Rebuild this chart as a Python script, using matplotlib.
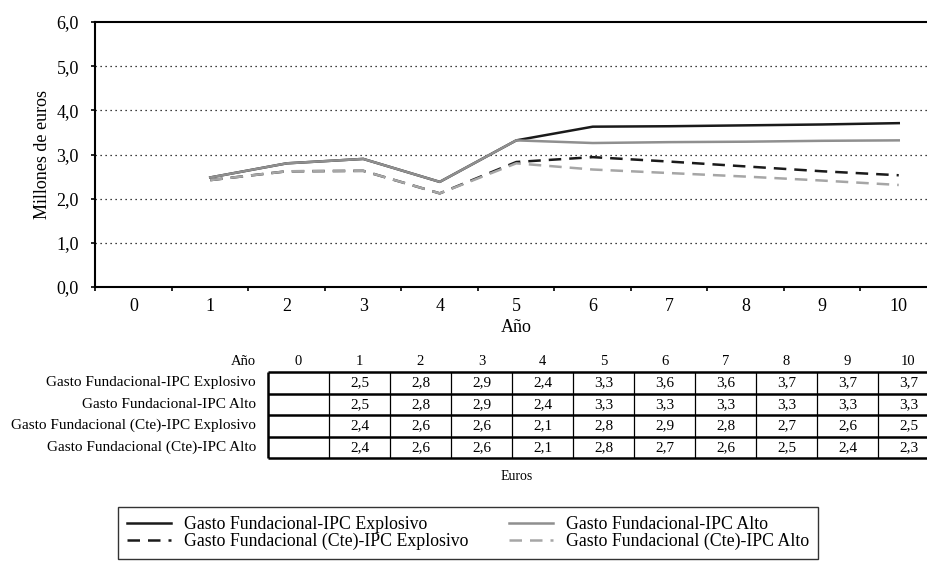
import matplotlib
matplotlib.use("Agg")
import matplotlib.pyplot as plt
import numpy as np
from matplotlib.ticker import FixedLocator, NullFormatter, FuncFormatter

plt.rcParams['font.family'] = ['Liberation Serif', 'DejaVu Serif']

# datos
anios = [0, 1, 2, 3, 4, 5, 6, 7, 8, 9, 10]
anios_serie = [1, 2, 3, 4, 5, 6, 7, 8, 9, 10]
gasto_exp = [2.48, 2.80, 2.90, 2.38, 3.32, 3.63, 3.64, 3.66, 3.68, 3.71]
gasto_alto = [2.48, 2.80, 2.90, 2.38, 3.32, 3.26, 3.28, 3.29, 3.31, 3.32]
gasto_cte_exp = [2.42, 2.62, 2.63, 2.12, 2.83, 2.94, 2.84, 2.73, 2.62, 2.53]
gasto_cte_alto = [2.42, 2.62, 2.63, 2.12, 2.80, 2.66, 2.58, 2.50, 2.41, 2.31]
nombres = ['Gasto Fundacional-IPC Explosivo', 'Gasto Fundacional-IPC Alto',
           'Gasto Fundacional (Cte)-IPC Explosivo', 'Gasto Fundacional (Cte)-IPC Alto']
yticks = [0, 1, 2, 3, 4, 5, 6]

W, H = 928, 563
fig = plt.figure(figsize=(W / 100, H / 100), dpi=100)

# grafico principal (el borde derecho queda fuera de la imagen)
ax = fig.add_axes([95.5 / W, 1 - 287 / H, 841.5 / W, 265 / H])
ax.set_xlim(-0.5, 10.5)
ax.set_ylim(0, 6)

estilos = [
    (gasto_exp, '#1a1a1a', '-'),
    (gasto_alto, '#8f8f8f', '-'),
    (gasto_cte_exp, '#1a1a1a', '--'),
    (gasto_cte_alto, '#a6a6a6', '--'),
]
lineas = []
for (serie, col, ls), nom in zip(estilos, nombres):
    l, = ax.plot(anios_serie, serie, color=col, lw=1.8, ls=ls, label=nom)
    if ls == '--':
        l.set_dashes((5, 3.2))
    lineas.append(l)
# orden de dibujo: grises encima
lineas[0].set_zorder(2)
lineas[2].set_zorder(2)
lineas[1].set_zorder(3)
lineas[3].set_zorder(3)

ax.xaxis.set_major_locator(FixedLocator(np.arange(-0.5, 11, 1)))
ax.xaxis.set_major_formatter(NullFormatter())
ax.xaxis.set_minor_locator(FixedLocator(anios))
ax.set_xticklabels([str(a) for a in anios], minor=True)
ax.tick_params(axis='x', which='major', direction='out', length=3, width=1.2)
ax.tick_params(axis='x', which='minor', length=0, pad=8, labelsize=13)
ax.set_yticks(yticks)
ax.yaxis.set_major_formatter(FuncFormatter(lambda v, p: f'{v:.1f}'.replace('.', ',')))
ax.tick_params(axis='y', direction='out', length=3, width=1.2, labelsize=13, pad=9)

for y in yticks[1:-1]:
    ax.axhline(y, color='black', lw=0.9, ls=(0, (1, 3)), zorder=1)

for s in ['left', 'bottom', 'top']:
    ax.spines[s].set_linewidth(1.5)
ax.spines['right'].set_visible(False)
ax.set_xlabel('Año', fontsize=13, labelpad=3)
ax.set_ylabel('Millones de euros', fontsize=13, labelpad=4)

# tabla de datos
tabla = fig.add_axes([268 / W, 1 - 458 / H, 671 / W, 107.5 / H])
tabla.set_xlim(0, 11)
tabla.set_ylim(5, 0)
tabla.axis('off')
tabla.text(-0.2, 0.5, 'Año', ha='right', va='center', fontsize=10.5)
for i, a in enumerate(anios):
    tabla.text(i + 0.5, 0.5, str(a), ha='center', va='center', fontsize=10.5)
for r, (serie, nom) in enumerate(zip([gasto_exp, gasto_alto, gasto_cte_exp, gasto_cte_alto], nombres)):
    tabla.text(-0.2, r + 1.5, nom, ha='right', va='center', fontsize=11)
    for a, v in zip(anios_serie, serie):
        tabla.text(a + 0.5, r + 1.5, f'{v:.1f}'.replace('.', ','), ha='center', va='center', fontsize=11)
tabla.hlines(np.arange(1, 6), 0, 11, color='black', lw=1.8, clip_on=False)
tabla.vlines(np.arange(1, 11), 1, 5, color='black', lw=0.9, clip_on=False)
tabla.vlines([0], 1, 5, color='black', lw=1.8, clip_on=False)

fig.text(517 / W, 1 - 477 / H, 'Euros', ha='center', va='center', fontsize=10)

# leyenda (dos filas: explosivo / constante)
orden = [lineas[0], lineas[2], lineas[1], lineas[3]]
leg = fig.legend(handles=orden, loc='upper left', ncol=2,
                 bbox_to_anchor=(118 / W, 1 - 507 / H),
                 fontsize=12.8, frameon=True, fancybox=False, edgecolor='black',
                 handlelength=2.5, handletextpad=0.7, borderaxespad=0,
                 labelspacing=-0.02, borderpad=0.5, columnspacing=2.3)
leg.get_frame().set_linewidth(1.0)

fig.savefig('out.png', dpi=100)
